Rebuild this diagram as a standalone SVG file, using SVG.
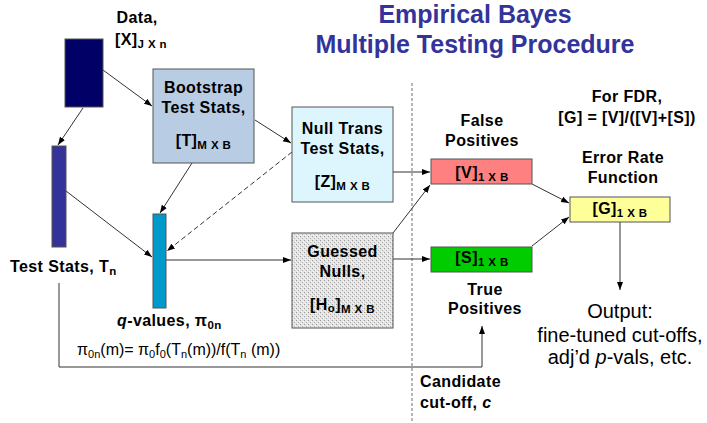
<svg xmlns="http://www.w3.org/2000/svg" width="707" height="423" viewBox="0 0 707 423">
<style>
text{font-family:"Liberation Sans",Arial,sans-serif;fill:#000}
.b{font-weight:bold;font-size:16px;letter-spacing:0.4px}
.c{text-anchor:middle}
.sub{font-size:11.5px}
.title{font-size:25px;font-weight:bold;fill:#333399;text-anchor:middle}
.reg{font-size:20px;text-anchor:middle}
.box{stroke:#555;stroke-width:1}
.ln{stroke:#333;stroke-width:1;fill:none}
</style>
<defs>
<marker id="ah" markerUnits="userSpaceOnUse" markerWidth="9" markerHeight="7" refX="8" refY="3.5" orient="auto">
<path d="M0,0.5 L8,3.5 L0,6.5 z" fill="#000"/>
</marker>
<pattern id="stip" width="4" height="4" patternUnits="userSpaceOnUse">
<rect width="4" height="4" fill="#e4e4e4"/>
<rect x="0" y="0" width="1" height="1" fill="#9a9a9a"/>
<rect x="2" y="2" width="1" height="1" fill="#b0b0b0"/>
<rect x="3" y="1" width="1" height="1" fill="#f8f8f8"/>
<rect x="1" y="3" width="1" height="1" fill="#f8f8f8"/>
</pattern>
</defs>

<g id="title">
<text class="title" x="475" y="23">Empirical Bayes</text>
<text class="title" x="475" y="53">Multiple Testing Procedure</text>
</g>

<line id="divider" x1="412" y1="83" x2="412" y2="423" stroke="#888" stroke-width="1.2" stroke-dasharray="3,2"/>

<g id="connectors">
<line class="ln" x1="103" y1="70" x2="152" y2="106" marker-end="url(#ah)"/>
<line class="ln" x1="83" y1="108" x2="58" y2="145" marker-end="url(#ah)"/>
<line class="ln" x1="255" y1="120" x2="291" y2="143" marker-end="url(#ah)"/>
<line class="ln" x1="192" y1="163" x2="160" y2="213" marker-end="url(#ah)"/>
<line class="ln" x1="292" y1="152" x2="167" y2="251" stroke-dasharray="5,3" marker-end="url(#ah)"/>
<line class="ln" x1="66" y1="191" x2="152" y2="257" marker-end="url(#ah)"/>
<line class="ln" x1="166" y1="260" x2="291" y2="260" marker-end="url(#ah)"/>
<line class="ln" x1="393" y1="172" x2="430" y2="172" marker-end="url(#ah)"/>
<line class="ln" x1="393" y1="259" x2="430" y2="259" marker-end="url(#ah)"/>
<line class="ln" x1="393" y1="233" x2="430" y2="185" marker-end="url(#ah)"/>
<line class="ln" x1="532" y1="184" x2="569" y2="203" marker-end="url(#ah)"/>
<line class="ln" x1="532" y1="246" x2="569" y2="217" marker-end="url(#ah)"/>
<line class="ln" x1="620" y1="222" x2="620" y2="290" marker-end="url(#ah)"/>
<polyline class="ln" points="59,283 59,367 482,367 482,326" stroke="#555" marker-end="url(#ah)"/>
</g>

<g id="data">
<rect x="65" y="39" width="38" height="68" fill="#000066" class="box"/>
<text class="b c" x="137" y="23">Data,</text>
<text class="b" x="115" y="45">[X]<tspan class="sub" dy="3">J X n</tspan></text>
</g>

<g id="test-stats">
<rect x="52" y="146" width="14" height="101" fill="#333399" class="box"/>
<text class="b" x="10" y="272">Test Stats, T<tspan class="sub" dy="3">n</tspan></text>
</g>

<g id="bootstrap">
<rect x="153" y="69" width="101" height="94" fill="#b8cce4" class="box"/>
<text class="b c" x="203.5" y="93">Bootstrap</text>
<text class="b c" x="203.5" y="113">Test Stats,</text>
<text class="b c" x="203.5" y="146">[T]<tspan class="sub" dy="3">M X B</tspan></text>
</g>

<g id="null-trans">
<rect x="292" y="107" width="101" height="95" fill="#ddf6fd" class="box"/>
<text class="b c" x="342.5" y="134">Null Trans</text>
<text class="b c" x="342.5" y="154">Test Stats,</text>
<text class="b c" x="342.5" y="187">[Z]<tspan class="sub" dy="3">M X B</tspan></text>
</g>

<g id="q-values">
<rect x="153" y="214" width="13" height="94" fill="#0099cc" class="box"/>
<text class="b" x="117" y="326"><tspan font-style="italic">q</tspan>-values, π<tspan class="sub" dy="3">0n</tspan></text>
<text x="77" y="355" font-size="16">π<tspan font-size="11" dy="3">0n</tspan><tspan dy="-3">(m)= π</tspan><tspan font-size="11" dy="3">0</tspan><tspan dy="-3">f</tspan><tspan font-size="11" dy="3">0</tspan><tspan dy="-3">(T</tspan><tspan font-size="11" dy="3">n</tspan><tspan dy="-3">(m))/f(T</tspan><tspan font-size="11" dy="3">n</tspan><tspan dy="-3"> (m))</tspan></text>
</g>

<g id="guessed-nulls">
<rect x="292" y="233" width="101" height="95" fill="url(#stip)" class="box"/>
<text class="b c" x="342.5" y="257">Guessed</text>
<text class="b c" x="342.5" y="277">Nulls,</text>
<text class="b c" x="342.5" y="310">[H<tspan class="sub" dy="2">o</tspan><tspan dy="-2">]</tspan><tspan class="sub" dy="3">M X B</tspan></text>
</g>

<g id="false-positives">
<rect x="431" y="159" width="101" height="25" fill="#ff8080" class="box"/>
<text class="b c" x="482" y="126">False</text>
<text class="b c" x="482" y="146">Positives</text>
<text class="b c" x="482" y="178">[V]<tspan class="sub" dy="3">1 X B</tspan></text>
</g>

<g id="true-positives">
<rect x="431" y="247" width="101" height="25" fill="#00cc00" class="box"/>
<text class="b c" x="482" y="263">[S]<tspan class="sub" dy="3">1 X B</tspan></text>
<text class="b c" x="485" y="295">True</text>
<text class="b c" x="485" y="314">Positives</text>
</g>

<g id="error-rate">
<rect x="570" y="197" width="100" height="25" fill="#ffff99" class="box"/>
<text class="b c" x="623" y="163">Error Rate</text>
<text class="b c" x="623" y="183">Function</text>
<text class="b c" x="620" y="214">[G]<tspan class="sub" dy="3">1 X B</tspan></text>
<text class="b c" x="627" y="102">For FDR,</text>
<text class="b c" x="627" y="123">[G] = [V]/([V]+[S])</text>
</g>

<g id="output">
<text class="reg" x="620" y="318">Output:</text>
<text class="reg" x="620" y="342">fine-tuned cut-offs,</text>
<text class="reg" x="620" y="364">adj’d <tspan font-style="italic">p</tspan>-vals, etc.</text>
</g>

<g id="candidate">
<text class="b" x="420" y="387">Candidate</text>
<text class="b" x="420" y="408">cut-off, <tspan font-style="italic">c</tspan></text>
</g>
</svg>
